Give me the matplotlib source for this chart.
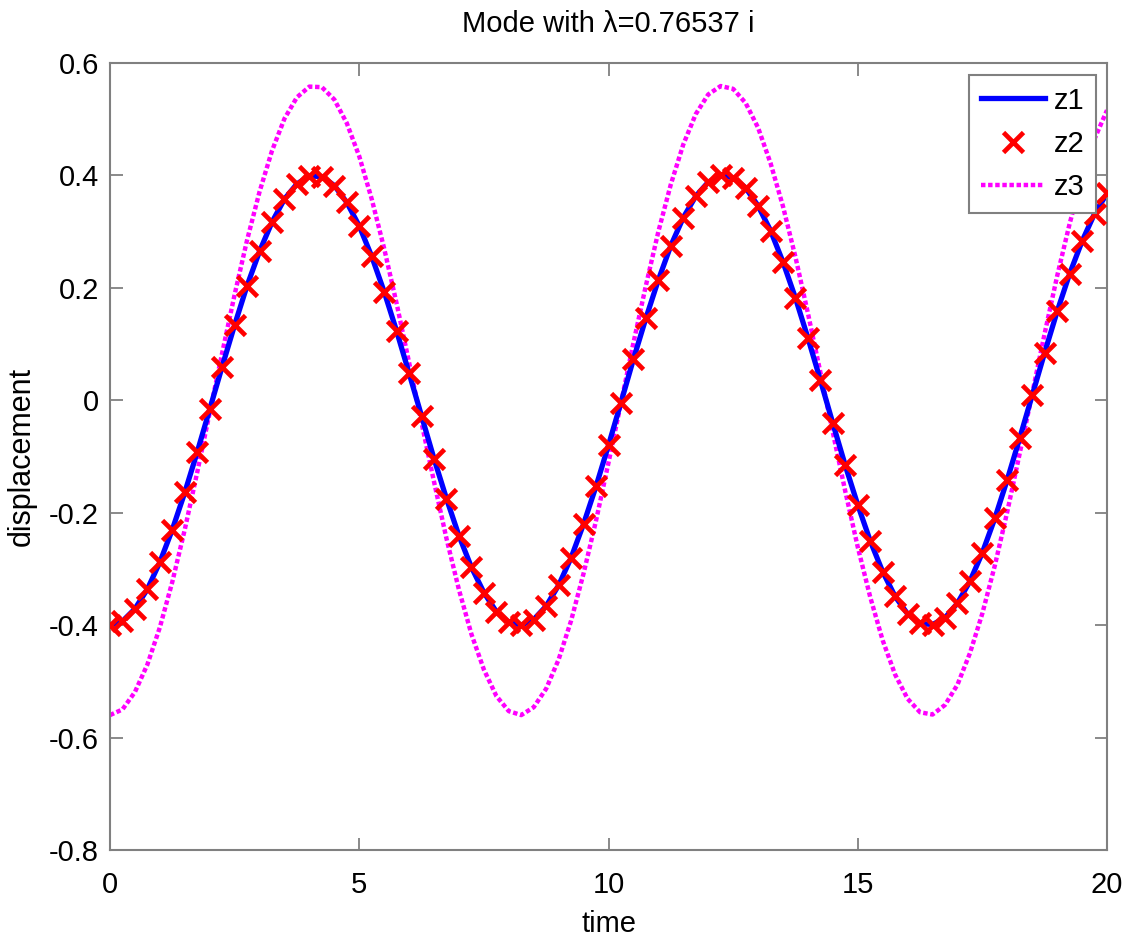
import matplotlib
matplotlib.use("Agg")
import matplotlib.pyplot as plt

plt.rcParams['font.family'] = ['Liberation Sans', 'DejaVu Sans']

# time samples (solver output points, spacing ~0.25)
time = [k * 0.25 for k in range(81)]

z1 = [-0.400, -0.393, -0.371, -0.336, -0.288, -0.230, -0.164, -0.092, -0.016, 0.060,
      0.134, 0.204, 0.265, 0.317, 0.358, 0.385, 0.399, 0.398, 0.382, 0.352,
      0.310, 0.256, 0.193, 0.123, 0.048, -0.028, -0.104, -0.175, -0.241, -0.297,
      -0.342, -0.376, -0.395, -0.400, -0.390, -0.366, -0.329, -0.280, -0.220, -0.153,
      -0.080, -0.004, 0.073, 0.146, 0.214, 0.275, 0.325, 0.363, 0.388, 0.400,
      0.396, 0.378, 0.346, 0.302, 0.246, 0.182, 0.111, 0.036, -0.041, -0.116,
      -0.186, -0.250, -0.305, -0.349, -0.380, -0.397, -0.399, -0.387, -0.361, -0.322,
      -0.271, -0.210, -0.141, -0.067, 0.009, 0.085, 0.158, 0.225, 0.283, 0.332,
      0.368]

z2 = list(z1)

z3 = [-0.560, -0.550, -0.519, -0.470, -0.404, -0.323, -0.230, -0.128, -0.022, 0.084,
      0.188, 0.285, 0.371, 0.444, 0.501, 0.539, 0.558, 0.557, 0.535, 0.493,
      0.434, 0.358, 0.270, 0.172, 0.067, -0.040, -0.145, -0.246, -0.337, -0.416,
      -0.479, -0.526, -0.553, -0.560, -0.546, -0.513, -0.461, -0.392, -0.308, -0.214,
      -0.111, -0.005, 0.102, 0.204, 0.300, 0.384, 0.455, 0.509, 0.544, 0.559,
      0.554, 0.529, 0.485, 0.422, 0.345, 0.255, 0.155, 0.050, -0.057, -0.162,
      -0.261, -0.350, -0.427, -0.488, -0.531, -0.555, -0.559, -0.542, -0.506, -0.450,
      -0.379, -0.294, -0.198, -0.094, 0.012, 0.119, 0.221, 0.314, 0.397, 0.465,
      0.516]

xticks = [0, 5, 10, 15, 20]
yticks = [-0.8, -0.6, -0.4, -0.2, 0, 0.2, 0.4, 0.6]
ytick_labels = ['-0.8', '-0.6', '-0.4', '-0.2', '0', '0.2', '0.4', '0.6']

FS = 21

fig = plt.figure(figsize=(11.27, 9.43), dpi=100)
ax = fig.add_axes([110 / 1127, 1 - 850 / 943, (1107 - 110) / 1127, (850 - 63) / 943])

ax.plot(time, z1, color='#0000ff', lw=3.8, label='z1', zorder=2)
ax.plot(time, z2, linestyle='none', marker='x', color='#ff0000', ms=14, mew=3.4,
        label='z2', zorder=3)
ax.plot(time, z3, color='#ff00ff', lw=3.2, linestyle=(0, (1, 0.6)), label='z3', zorder=1)

ax.set_xlim(0, 20)
ax.set_ylim(-0.8, 0.6)
ax.set_xticks(xticks)
ax.set_xticklabels([str(v) for v in xticks])
ax.set_yticks(yticks)
ax.set_yticklabels(ytick_labels)

gray = '#808080'
for s in ax.spines.values():
    s.set_color(gray)
    s.set_linewidth(1.5)
ax.tick_params(direction='in', length=9, width=1.3, color=gray, top=True, right=True,
               labelsize=FS, labelcolor='black')
ax.tick_params(axis='x', pad=15)
ax.tick_params(axis='y', pad=8)

ax.set_xlabel('time', fontsize=FS, labelpad=8)
ax.set_ylabel('displacement', fontsize=22, labelpad=9)
ax.set_title('Mode with λ=0.76537 i', fontsize=FS, pad=22)

leg = ax.legend(loc='upper right', bbox_to_anchor=(1 - 11 / 997, 1 - 12 / 787),
                borderaxespad=0, fontsize=FS, frameon=True, fancybox=False,
                handlelength=2.2, handletextpad=0.3, labelspacing=0.52,
                borderpad=0.4, edgecolor=gray, framealpha=1)
leg.get_frame().set_linewidth(1.5)

fig.savefig('out.png', dpi=100)
